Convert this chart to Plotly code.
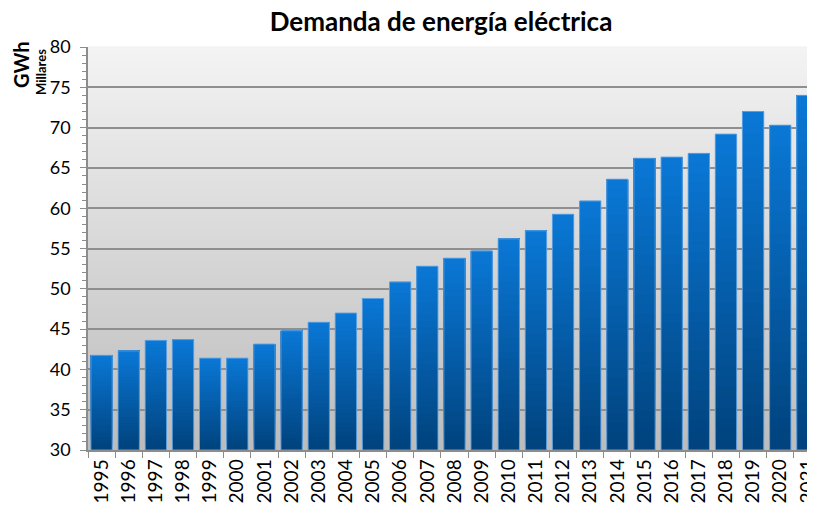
import plotly.graph_objects as go

years = [str(y) for y in range(1995, 2022)]
demanda = [41.75, 42.3, 43.6, 43.7, 41.4, 41.4, 43.15, 44.8, 45.85, 47.0,
           48.8, 50.85, 52.8, 53.8, 54.7, 56.2, 57.2, 59.25, 60.9, 63.6,
           66.2, 66.35, 66.8, 69.2, 72.0, 70.3, 74.0]
y_min, y_max = 30, 80
title = "Demanda de energía eléctrica"

FONT = "Lato"
N = 30
bot = (0, 66, 124)
top = (10, 120, 214)

# page body has an 8px margin: figure is sized/offset to compensate
OFF = 8
W, H = 815 - OFF, 505 - OFF
L, T, B = 88 - OFF, 47 - OFF, 55

fig = go.Figure()
heights = [v - y_min for v in demanda]
for k in range(N):
    t = (k + 0.5) / N
    c = tuple(round(bot[i] + (top[i] - bot[i]) * t) for i in range(3))
    fig.add_trace(go.Bar(
        x=years,
        y=[h * (N - k) / N for h in heights],
        base=[y_min + h * k / N for h in heights],
        marker=dict(color="rgb(%d,%d,%d)" % c, line=dict(width=0)),
        showlegend=False, hoverinfo="skip",
    ))
fig.add_trace(go.Bar(
    x=years, y=heights, base=[y_min] * len(years),
    marker=dict(color="rgba(0,0,0,0)", line=dict(color="rgba(100,165,230,0.9)", width=1)),
    showlegend=False, hovertemplate="%{x}: %{customdata}<extra></extra>", customdata=demanda,
))

# background gradient of plot area
M = 60
shapes = []
for k in range(M):
    t = k / M
    g = round(188 + (243 - 188) * (t + 0.5 / M))
    shapes.append(dict(type="rect", xref="x domain", yref="y domain", layer="below",
                       x0=0, x1=1, y0=t, y1=(k + 1) / M + 0.002,
                       fillcolor="rgb(%d,%d,%d)" % (g, g, g), line=dict(width=0)))

pw = W - L
ph = H - T - B

fig.update_layout(
    width=W, height=H,
    margin=dict(l=L, r=0, t=T, b=B, autoexpand=False),
    paper_bgcolor="white", plot_bgcolor="rgba(0,0,0,0)",
    barmode="overlay", bargap=0.215,
    shapes=shapes,
    font=dict(family=FONT, color="black"),
    title=dict(text="<b>%s</b>" % title, x=(441 - OFF) / W, xanchor="center",
               y=1 - (22 - OFF) / H, yanchor="middle", font=dict(size=26, family=FONT)),
    xaxis=dict(type="category", range=[-0.5, 26.28], tickangle=-90, automargin=False,
               tickson="boundaries", ticks="outside", ticklen=6, tickcolor="#8c8c8c",
               showline=True, linecolor="#8c8c8c", linewidth=1.5,
               showgrid=False, tickfont=dict(size=19, family=FONT)),
    yaxis=dict(range=[y_min, y_max], dtick=5, tick0=30, ticks="outside", ticklen=6,
               automargin=False,
               tickcolor="#8c8c8c", showline=True, linecolor="#8c8c8c", linewidth=1.5,
               showgrid=True, gridcolor="#8f8f8f", gridwidth=1.5,
               ticklabelstandoff=6, tickfont=dict(size=18, family=FONT),
               minor=dict(dtick=1, ticks="outside", ticklen=4, tickcolor="#8c8c8c", showgrid=False)),
    annotations=[
        dict(text="<b>GWh</b>", x=(21 - OFF - L) / pw, y=(H - B - (65 - OFF)) / ph,
             xref="paper", yref="paper", textangle=-90,
             showarrow=False, font=dict(size=20, family=FONT), xanchor="center", yanchor="middle"),
        dict(text="<b>Millares</b>", x=(41 - OFF - L) / pw, y=(H - B - (72 - OFF)) / ph,
             xref="paper", yref="paper", textangle=-90,
             showarrow=False, font=dict(size=13, family=FONT), xanchor="center", yanchor="middle"),
    ],
)
fig.write_html("out.html")
